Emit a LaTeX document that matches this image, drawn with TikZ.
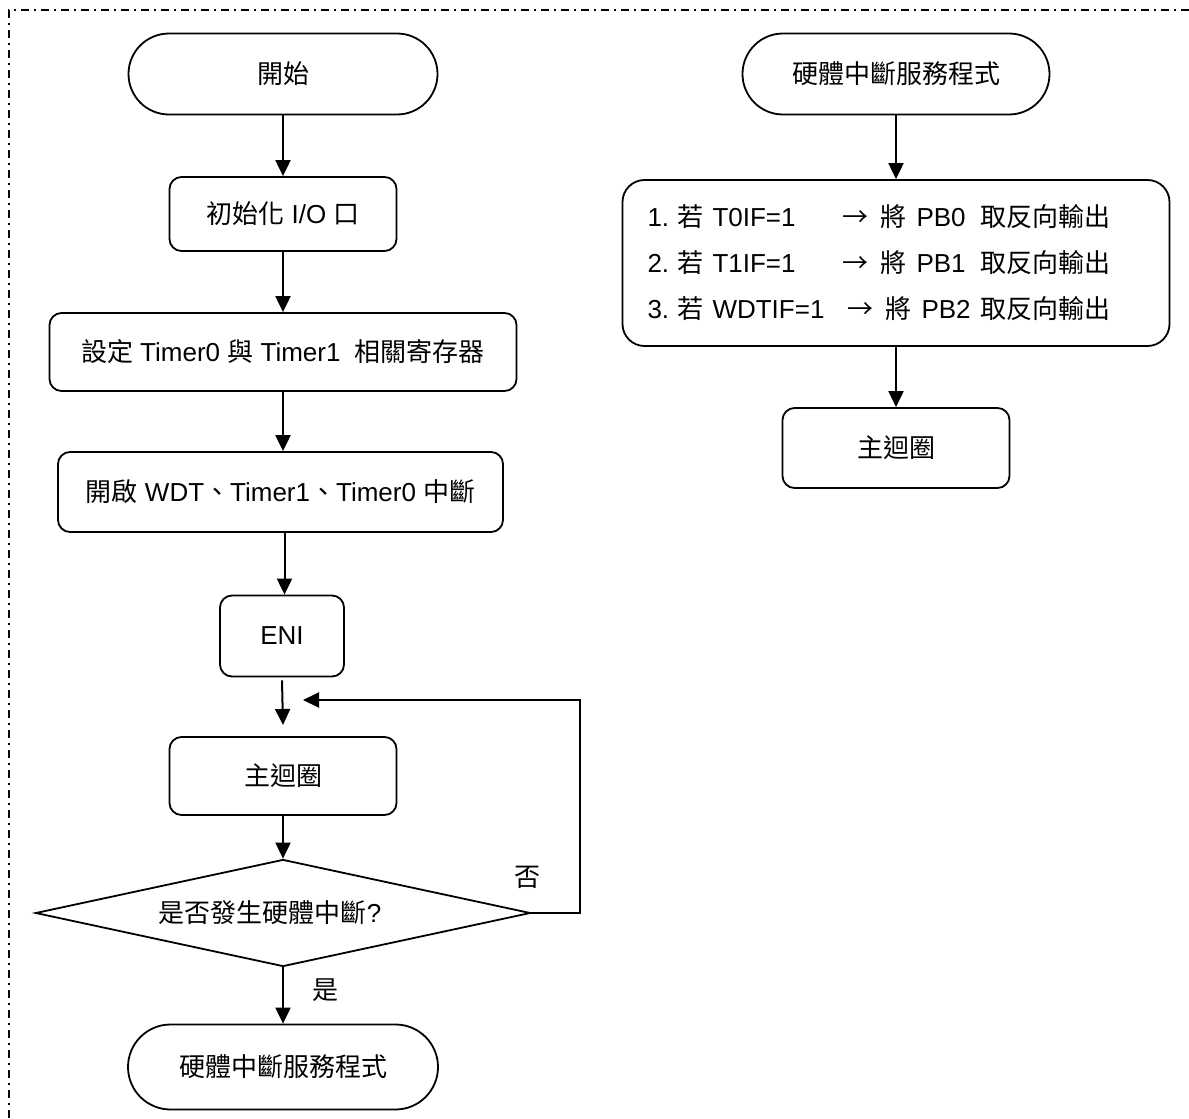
\documentclass[tikz,border=0pt]{standalone}
\usepackage{fontspec}
\setmainfont{Liberation Sans}
\newfontfamily\cjk{Noto Sans CJK TC}
\usetikzlibrary{shapes.geometric,shapes.misc,arrows.meta}
\newcommand\zh[1]{{\cjk #1}}

\tikzset{
  every node/.style={font=\fontsize{13}{23}\selectfont, inner sep=0pt},
  terminal/.style={draw, line width=0.9pt, rounded rectangle, minimum width=#1, minimum height=40.5pt},
  procbox/.style={draw, line width=0.9pt, rounded corners=6pt, minimum width=#1, minimum height=39pt},
  decision/.style={draw, line width=0.9pt, diamond, aspect=4.6, minimum width=247.5pt, minimum height=53.5pt},
  flow/.style={line width=1pt, -{Triangle[length=8pt,width=7.5pt]}},
  frameline/.style={line width=0.75pt, dash pattern=on 4pt off 2.5pt on 1pt off 2.5pt}
}

\begin{document}
\begin{tikzpicture}[x=0.5pt,y=-0.5pt]
  \useasboundingbox (0,0) rectangle (1189,1119);
  \fill[white] (0,0) rectangle (1189,1119);

  % dash-dot frame
  \draw[frameline] (1189,10) -- (9,10) -- (9,1119);

  % main program
  \node[terminal=154.5pt] (start) at (283,74) {\zh{開始}};
  \node[procbox=113.5pt, minimum height=37pt] (init) at (283,214) {\zh{初始化} I/O \zh{口}};
  \node[procbox=233.5pt] (timers) at (283,352) {\zh{設定} Timer0 \zh{與} Timer1\ \ \zh{相關寄存器}};
  \node[procbox=222.5pt, minimum height=40pt] (enable) at (280.5,492) {\zh{開啟} WDT\zh{、}Timer1\zh{、}Timer0 \zh{中斷}};
  \node[procbox=62pt, minimum height=40.5pt] (eni) at (282,636) {ENI};
  \node[procbox=113.5pt] (loop) at (283,776) {\zh{主迴圈}};
  \node[decision] (dec) at (283,913) {\zh{是否發生硬體中斷}?\hspace*{13pt}};
  \node[terminal=155pt, minimum height=42.5pt] (isr) at (283,1067) {\zh{硬體中斷服務程式}};

  \coordinate (eniend) at (283,725);
  \coordinate (back) at (303,700);
  \coordinate (c1) at (580,913);
  \coordinate (c2) at (580,700);

  \draw[flow] (start.south) -- (start.south |- init.north);
  \draw[flow] (init.south) -- (init.south |- timers.north);
  \draw[flow] (timers.south) -- (timers.south |- enable.north);
  \draw[flow] ([xshift=2pt]enable.south) -- ([xshift=2pt]enable.south |- eni.north);
  \draw[flow] ([yshift=-1.5pt]eni.south) -- (eniend);
  \draw[flow] (dec.east) -- (c1) -- (c2) -- (back);
  \draw[flow] (loop.south) -- (dec.north);
  \draw[flow] (dec.south) -- (dec.south |- isr.north);

  \node (no) at (527,877) {\zh{否}};
  \node (yes) at (325,990) {\zh{是}};

  % interrupt service routine
  \node[terminal=153.5pt] (isr2) at (896,74) {\zh{硬體中斷服務程式}};
  \node[draw, line width=0.9pt, rounded corners=11pt, minimum width=273.5pt, minimum height=83pt,
        text width=248.5pt, inner xsep=12.5pt, align=left] (toggle) at (896,263)
    {\makebox[97.5pt][l]{1.\ \zh{若} T0IF=1}\makebox[69pt][l]{\zh{→}\hspace{6pt}\zh{將}\hspace{5pt}PB0}\zh{取反向輸出}\\
     \makebox[97.5pt][l]{2.\ \zh{若} T1IF=1}\makebox[69pt][l]{\zh{→}\hspace{6pt}\zh{將}\hspace{5pt}PB1}\zh{取反向輸出}\\
     \makebox[100pt][l]{3.\ \zh{若} WDTIF=1}\makebox[66.5pt][l]{\zh{→}\hspace{6pt}\zh{將}\hspace{5pt}PB2}\zh{取反向輸出}};
  \node[procbox=113.5pt, minimum height=40pt] (loop2) at (896,448) {\zh{主迴圈}};

  \draw[flow] (isr2.south) -- (isr2.south |- toggle.north);
  \draw[flow] (toggle.south) -- (toggle.south |- loop2.north);
\end{tikzpicture}
\end{document}
